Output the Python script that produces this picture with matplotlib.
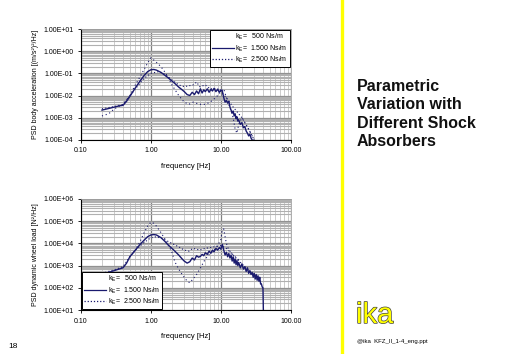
import matplotlib
matplotlib.use("Agg")
import matplotlib.pyplot as plt
from matplotlib.lines import Line2D
from matplotlib.ticker import FixedLocator, FixedFormatter, LogLocator, NullFormatter
import matplotlib.patheffects as pe

plt.rcParams['font.family'] = ['Liberation Sans', 'DejaVu Sans']

NAVY = '#1a1a6e'

# ---------------- data: body acceleration ----------------
acc_f_1500 = [0.2, 0.25, 0.3, 0.35, 0.4, 0.45, 0.5, 0.6, 0.7, 0.8, 0.9, 1.0, 1.1, 1.2, 1.4, 1.6, 1.8, 2.0,
              2.2, 2.5, 2.8, 3.0, 3.3, 3.6, 3.9, 4.2, 4.5, 4.8, 5.1, 5.4, 5.7, 6.0, 6.4, 6.8, 7.2, 7.6,
              8.0, 8.5, 9.0, 9.5, 10.0, 10.5, 11.0, 11.5, 12.0, 12.5, 13.0, 13.5, 14.0, 14.5, 15.0,
              15.5, 16.0, 16.5, 17.0, 17.5, 18.0, 19.0, 20.0, 21.0, 22.0, 23.0, 24.0, 25.0, 26.0,
              27.0, 28.0]
acc_v_1500 = [2.2e-3, 2.6e-3, 3.0e-3, 3.4e-3, 3.6e-3, 5.5e-3, 9e-3, 2.2e-2, 4.5e-2, 8e-2, 1.2e-1, 1.45e-1,
              1.5e-1, 1.4e-1, 1.1e-1, 8e-2, 6e-2, 4.5e-2, 3.5e-2, 2.4e-2, 1.8e-2, 1.5e-2, 1.1e-2, 1.0e-2,
              1.4e-2, 1.1e-2, 1.6e-2, 1.2e-2, 2.0e-2, 1.3e-2, 1.8e-2, 1.5e-2, 2.0e-2, 1.4e-2, 1.9e-2,
              1.6e-2, 2.1e-2, 1.5e-2, 1.9e-2, 1.4e-2, 1.8e-2, 1.6e-2, 8e-3, 5e-3, 6e-3, 4.5e-3, 5.5e-3,
              3e-3, 2.2e-3, 1.6e-3, 2.0e-3, 1.2e-3, 1.5e-3, 9e-4, 1.1e-3, 7e-4, 8e-4, 5e-4, 6e-4, 3.5e-4,
              4e-4, 2.5e-4, 2e-4, 1.5e-4, 1.8e-4, 1.2e-4, 1.0e-4]

acc_f_500 = [0.2, 0.25, 0.3, 0.4, 0.5, 0.6, 0.7, 0.8, 0.9, 1.0, 1.1, 1.3, 1.5, 1.8, 2.0, 2.5, 3.0, 3.5,
             4.0, 5.0, 6.0, 7.0, 8.0, 9.0, 10.0, 11.0, 12.0, 13.0, 14.0, 15.0, 16.0, 17.0, 18.0, 20.0,
             22.0, 25.0, 28.0, 30.0]
acc_v_500 = [1.2e-3, 1.5e-3, 2.5e-3, 4e-3, 1e-2, 3e-2, 7e-2, 1.5e-1, 3e-1, 5e-1, 4e-1, 2.5e-1, 1.5e-1,
             6e-2, 3e-2, 1e-2, 5e-3, 4e-3, 5e-3, 4e-3, 4e-3, 5e-3, 7e-3, 1e-2, 1.5e-2, 2e-2, 8e-3, 4e-3,
             2e-3, 1e-3, 3e-4, 2e-4, 5e-4, 1e-3, 6e-4, 3e-4, 1.5e-4, 1e-4]

acc_f_2500 = [0.2, 0.3, 0.4, 0.6, 0.8, 1.0, 1.3, 1.6, 2.0, 2.5, 3.0, 4.0, 4.5, 5.0, 6.0, 7.0, 9.0, 10.0,
              12.0, 15.0, 20.0, 25.0, 30.0]
acc_v_2500 = [2.5e-3, 3.2e-3, 4e-3, 2e-2, 6e-2, 1e-1, 1.2e-1, 9e-2, 5e-2, 3e-2, 2.5e-2, 3e-2, 4e-2,
              2.5e-2, 3e-2, 2e-2, 2e-2, 1.5e-2, 8e-3, 3e-3, 1e-3, 3e-4, 1e-4]

# ---------------- data: dynamic wheel load ----------------
whl_f_1500 = [0.2, 0.25, 0.3, 0.35, 0.4, 0.45, 0.5, 0.6, 0.7, 0.8, 0.9, 1.0, 1.1, 1.2, 1.4, 1.6, 1.8, 2.0,
              2.2, 2.5, 2.8, 3.0, 3.3, 3.6, 3.9, 4.2, 4.5, 4.8, 5.1, 5.4, 5.7, 6.0, 6.4, 6.8, 7.2, 7.6,
              8.0, 8.5, 9.0, 9.5, 10.0, 10.5, 11.0, 11.5, 12.0, 12.5, 13.0, 13.5, 14.0, 14.5, 15.0,
              15.5, 16.0, 16.5, 17.0, 17.5, 18.0, 19.0, 20.0, 21.0, 22.0, 23.0, 24.0, 25.0, 26.0,
              27.0, 28.0, 29.0, 30.0, 31.0, 32.0, 33.0, 34.0, 35.0, 36.0, 37.0, 38.0, 39.0, 40.0, 40.5]
whl_v_1500 = [4e2, 5e2, 6e2, 7e2, 8e2, 1.3e3, 2.5e3, 5e3, 9e3, 1.4e4, 2e4, 2.4e4, 2.5e4, 2.4e4, 1.8e4,
              1.2e4, 8e3, 6e3, 4.5e3, 3e3, 2e3, 1.6e3, 1.3e3, 1.5e3, 2.2e3, 1.8e3, 2.8e3, 2.4e3, 2.6e3,
              3.2e3, 2.8e3, 3.8e3, 3.2e3, 4.5e3, 3.6e3, 5e3, 4.2e3, 6e3, 5e3, 6.5e3, 5.5e3, 9e3, 5e3,
              3e3, 4e3, 2.5e3, 3.5e3, 2.2e3, 3e3, 1.6e3, 2.5e3, 1.3e3, 2e3, 1.1e3, 1.7e3, 1e3, 1.4e3,
              8e2, 1.2e3, 7e2, 9e2, 5.5e2, 8e2, 4.5e2, 6e2, 4e2, 5e2, 3e2, 4.5e2, 2.5e2, 4e2, 2.2e2,
              3.5e2, 2e2, 3e2, 1.5e2, 1.5e2, 1.1e2, 1e2, 1e1]

whl_f_500 = [0.5, 0.6, 0.7, 0.8, 0.9, 1.0, 1.1, 1.2, 1.4, 1.6, 1.8, 2.0, 2.2, 2.5, 2.8, 3.0, 3.3, 3.6,
             4.0, 4.5, 5.0, 5.5, 6.0, 7.0, 8.0, 9.0, 10.0, 10.5, 11.0, 11.5, 12.0, 13.0, 14.0, 15.0,
             16.0, 18.0]
whl_v_500 = [2.5e3, 5e3, 1.2e4, 3e4, 6e4, 9e4, 8e4, 6e4, 3e4, 1.5e4, 8e3, 4e3, 1.5e3, 7e2, 4e2, 3e2,
             2e2, 1.7e2, 2.5e2, 4e2, 7e2, 1.2e3, 2e3, 3.5e3, 5e3, 8e3, 1.5e4, 4e4, 4.5e4, 2e4, 1e4, 5e3,
             4e3, 3e3, 2.5e3, 1.8e3]

whl_f_2500 = [0.2, 0.3, 0.4, 0.5, 0.6, 0.8, 1.0, 1.2, 1.5, 2.0, 2.5, 3.0, 3.5, 4.0, 5.0, 6.0, 7.0, 8.0,
              10.0, 12.0, 15.0, 20.0, 25.0, 30.0]
whl_v_2500 = [4.5e2, 6.5e2, 9e2, 2.5e3, 5e3, 1.1e4, 1.8e4, 2e4, 1.6e4, 1e4, 7e3, 5e3, 4.5e3, 6e3, 5e3,
              6e3, 6.5e3, 7e3, 8e3, 6e3, 3e3, 1.2e3, 6e2, 4e2]

labels = ["k$_\\mathregular{E}$=   500 Ns/m", "k$_\\mathregular{E}$=  1.500 Ns/m", "k$_\\mathregular{E}$=  2.500 Ns/m"]
x_ticks = [0.1, 1, 10, 100]
x_ticklabels = ["0.10", "1.00", "10.00", "100.00"]
acc_ticks = [1e-4, 1e-3, 1e-2, 1e-1, 1e0, 1e1]
acc_ticklabels = ["1.00E-04", "1.00E-03", "1.00E-02", "1.00E-01", "1.00E+00", "1.00E+01"]
whl_ticks = [1e1, 1e2, 1e3, 1e4, 1e5, 1e6]
whl_ticklabels = ["1.00E+01", "1.00E+02", "1.00E+03", "1.00E+04", "1.00E+05", "1.00E+06"]

fig = plt.figure(figsize=(5.12, 3.54), dpi=100)
fig.patch.set_facecolor('white')


def style(ax, yticks, yticklabels, ylabel):
    ax.set_xscale('log')
    ax.set_yscale('log')
    ax.set_xlim(0.1, 100)
    ax.set_ylim(yticks[0], yticks[-1])
    ax.xaxis.set_major_locator(FixedLocator(x_ticks))
    ax.xaxis.set_major_formatter(FixedFormatter(x_ticklabels))
    ax.yaxis.set_major_locator(FixedLocator(yticks))
    ax.yaxis.set_major_formatter(FixedFormatter(yticklabels))
    ax.xaxis.set_minor_locator(LogLocator(base=10, subs=range(2, 10)))
    ax.yaxis.set_minor_locator(LogLocator(base=10, subs=range(2, 10)))
    ax.xaxis.set_minor_formatter(NullFormatter())
    ax.yaxis.set_minor_formatter(NullFormatter())
    ax.grid(which='major', axis='x', color='#808080', lw=0.9)
    ax.grid(which='minor', axis='x', color='#c4c4c4', lw=0.6)
    ax.grid(which='major', axis='y', color='#909090', lw=0.9)
    ax.grid(which='minor', axis='y', color='#b0b0b0', lw=0.8)
    ax.tick_params(which='minor', length=0)
    ax.tick_params(which='major', length=2.5, width=0.6, labelsize=5, pad=3)
    for s in ['top', 'right']:
        ax.spines[s].set_color('#a0a0a0')
        ax.spines[s].set_linewidth(0.6)
    for s in ['left', 'bottom']:
        ax.spines[s].set_color('black')
        ax.spines[s].set_linewidth(0.8)
    ax.set_xlabel("frequency [Hz]", fontsize=5.5, labelpad=6)
    ax.set_ylabel(ylabel, fontsize=5, labelpad=3)


def legend(ax, loc):
    handles = [Line2D([], [], color='none'),
               Line2D([], [], color=NAVY, lw=0.9),
               Line2D([], [], color=NAVY, lw=0.9, ls=(0, (1, 1.5)))]
    lg = ax.legend(handles, labels, loc=loc, fontsize=5, frameon=True, fancybox=False,
                   borderaxespad=0.15, handlelength=3.2, handletextpad=0.2, labelspacing=0.15,
                   borderpad=0.3)
    lg.get_frame().set_edgecolor('black')
    lg.get_frame().set_linewidth(0.7)
    lg.get_frame().set_alpha(1)


# top chart
ax1 = fig.add_axes([0.158, 0.605, 0.41, 0.313])
style(ax1, acc_ticks, acc_ticklabels, "PSD body acceleration [(m/s²)²/Hz]")
ax1.plot(acc_f_500, acc_v_500, color=NAVY, lw=0.8, ls=(0, (1, 2.5)))
ax1.plot(acc_f_2500, acc_v_2500, color=NAVY, lw=0.8, ls=(0, (1, 2)))
ax1.plot(acc_f_1500, acc_v_1500, color=NAVY, lw=1.0)
legend(ax1, 'upper right')

# bottom chart
ax2 = fig.add_axes([0.158, 0.124, 0.41, 0.314])
style(ax2, whl_ticks, whl_ticklabels, "PSD dynamic wheel load [N²/Hz]")
ax2.plot(whl_f_500, whl_v_500, color=NAVY, lw=0.8, ls=(0, (1, 2.5)))
ax2.plot(whl_f_2500, whl_v_2500, color=NAVY, lw=0.8, ls=(0, (1, 2)))
ax2.plot(whl_f_1500, whl_v_1500, color=NAVY, lw=1.0)
legend(ax2, 'lower left')

# slide decorations
fig.add_artist(Line2D([341.5 / 512, 341.5 / 512], [0, 1], color='#ffff00', lw=2.4,
                      transform=fig.transFigure))
fig.text(357 / 512, 1 - 79 / 354, "Parametric\nVariation with\nDifferent Shock\nAbsorbers",
         fontsize=11.5, fontweight='bold', ha='left', va='top', linespacing=1.28, color='#111111')
fig.text(356 / 512, 1 - 323 / 354, "ika", fontsize=21, color='#ffff00', ha='left', va='baseline',
         path_effects=[pe.withStroke(linewidth=1.0, foreground='#444444')])
fig.text(357 / 512, 1 - 341 / 354, "@ika  KFZ_II_1-4_eng.ppt", fontsize=4.3, ha='left', va='center')
fig.text(8 / 512, 1 - 346 / 354, "18", fontsize=6, ha='left', va='center')

fig.savefig("out.png", dpi=100, facecolor='white')
